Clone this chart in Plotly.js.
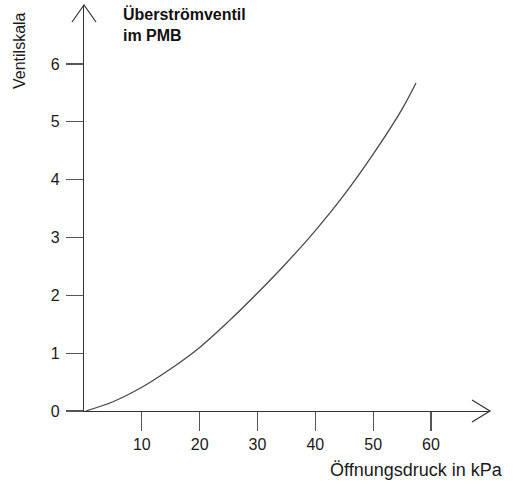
<!DOCTYPE html>
<html>
<head>
<meta charset="utf-8">
<script src="https://cdn.plot.ly/plotly-3.0.1.min.js"></script>
<style>html,body{margin:0;padding:0;background:#fff;}#chart{width:513px;height:483px;}</style>
</head>
<body>
<div id="chart"></div>
<script>
// Data
const pressure_kPa = [0.3, 5, 10, 15, 20, 25, 30, 35, 40, 45, 50, 55, 57.4];
const valveScale   = [0.0, 0.16, 0.41, 0.73, 1.10, 1.55, 2.04, 2.56, 3.12, 3.74, 4.44, 5.22, 5.67];
const xTicks = [10, 20, 30, 40, 50, 60];
const yTicks = [0, 1, 2, 3, 4, 5, 6];
const chartTitle = "<b>Überströmventil<br>im PMB</b>";
const xTitle = "Öffnungsdruck in kPa";
const yTitle = "Ventilskala";

const W = 406, H = 406; // plot area size in px
const axisColor = '#333';
const font = 'Liberation Sans, Arial, sans-serif';

const trace = {
  x: pressure_kPa, y: valveScale, type: 'scatter', mode: 'lines',
  line: {color: '#4a4a4a', width: 1.3, shape: 'spline', smoothing: 1},
  cliponaxis: false, hoverinfo: 'skip'
};

const layout = {
  width: 513, height: 483,
  margin: {l: 84, r: 23, t: 5, b: 72},
  paper_bgcolor: '#fff', plot_bgcolor: '#fff',
  showlegend: false,
  font: {family: font, size: 16, color: '#1a1a1a'},
  xaxis: {
    range: [0, 70.2], tickvals: xTicks, ticktext: xTicks.map(String),
    ticks: 'outside', ticklen: 19, tickwidth: 1.2, tickcolor: '#555',
    showline: true, linecolor: axisColor, linewidth: 1.2,
    showgrid: false, zeroline: false, fixedrange: true,
    tickfont: {family: font, size: 16, color: '#1a1a1a'}
  },
  yaxis: {
    range: [0, 7.02], tickvals: yTicks, ticktext: yTicks.map(String),
    ticks: 'outside', ticklen: 17, tickwidth: 1.2, tickcolor: '#555',
    showline: true, linecolor: axisColor, linewidth: 1.2,
    showgrid: false, zeroline: false, fixedrange: true, ticklabelstandoff: 3,
    tickfont: {family: font, size: 16, color: '#1a1a1a'}
  },
  shapes: [
    // x-axis arrowhead (open chevron)
    {type: 'path', xref: 'paper', yref: 'paper',
     path: `M ${1 - 18/W},${11/H} L 1,0 L ${1 - 18/W},${-11/H}`,
     line: {color: axisColor, width: 1.2}},
    // y-axis arrowhead
    {type: 'path', xref: 'paper', yref: 'paper',
     path: `M ${-12/W},${1 - 17/H} L 0,1 L ${12/W},${1 - 17/H}`,
     line: {color: axisColor, width: 1.2}}
  ],
  annotations: [
    {text: chartTitle, xref: 'paper', yref: 'paper', x: (121-84)/W, y: (411-3)/H,
     xanchor: 'left', yanchor: 'top', align: 'left', showarrow: false,
     font: {family: font, size: 16, color: '#111'}},
    {text: xTitle, xref: 'paper', yref: 'paper', x: (416-84)/W, y: (411-470)/H,
     xanchor: 'center', yanchor: 'middle', showarrow: false,
     font: {family: font, size: 18, color: '#1a1a1a'}},
    {text: yTitle, xref: 'paper', yref: 'paper', x: (20-84)/W, y: (411-51)/H,
     xanchor: 'center', yanchor: 'middle', textangle: -90, showarrow: false,
     font: {family: font, size: 16, color: '#1a1a1a'}}
  ]
};

Plotly.newPlot('chart', [trace], layout, {displayModeBar: false, staticPlot: true});
</script>
</body>
</html>
